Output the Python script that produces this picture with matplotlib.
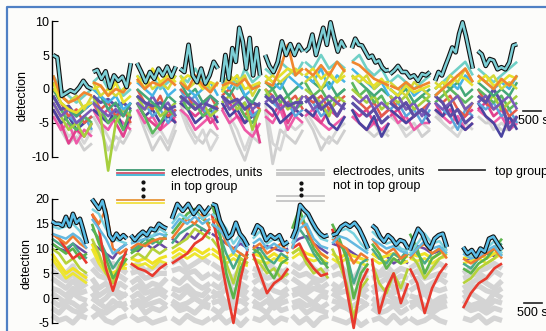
import numpy as np
import matplotlib.pyplot as plt
from matplotlib.lines import Line2D

plt.rcParams['font.family'] = ['Liberation Sans', 'DejaVu Sans']

W, H = 546, 331
PX_PER_S = 0.036          # 500 s scale bar is ~18 px wide
X_MAX = (W - 52) / PX_PER_S

# recording blocks (seconds)
top_start = [30, 1140, 2360, 3560, 4720, 5920, 7030, 8330, 9390, 10640, 11830]
top_end = [1110, 2190, 3440, 4610, 5780, 6970, 8140, 9360, 10500, 11690, 12920]
bot_start = [0, 1110, 2190, 3330, 4440, 5580, 6670, 7780, 8890, 9940, 11420]
bot_end = [970, 2080, 3190, 4390, 5440, 6560, 7670, 8780, 9890, 10970, 12500]

# ---- top panel: detection per block ----
top_peak = [
    [5, 4.6, -1, -0.6, -0.2, -0.5, 0.2, 1.2, 0.3, 0],
    [2.5, 2.8, 1.5, 2.6, 0.2, 2.0, 1.2, 1.8, 0.3, 3.8],
    [3.8, 2.5, 1, 2.5, 1.5, 3, 2, 3.3, 1.8, 3.3],
    [3, 2.5, 6.5, 2, 1, 3, 0.8, 2, 4, 3],
    [1, 5, 1.5, 6, 4, 9, 7, 3, 7.5, 2, 6, 2],
    [5, 3.4, 2.5, 4, 7, 5, 6.6, 5, 6.5, 5.5],
    [5.5, 6, 8, 5, 7, 9, 6.5, 9.8, 7.5, 5.5, 7, 6],
    [6, 7.4, 6.5, 6.4, 5.5, 4.6, 4.9, 3.9, 4.2, 3.2, 2.7, 2.8],
    [2.2, 2.7, 3.4, 2.5, 2.5, 1.7, 2, 1.2, 2.2, 2, 2.5],
    [1.2, 2.5, 2, 3.4, 4.7, 6.1, 5.4, 8.1, 9.8, 7.8, 5.4, 3],
    [5.6, 5.1, 3.4, 4.4, 4.2, 2.9, 3.2, 2.9, 3.9, 6.4, 6.6],
]
top_orange = [
    [2, -1, -2, -1.5, -0.5, -1], [1, 0.5, -1, 0, -0.5, 1], [1.5, 0, 1, 0.5, 1.5, 0.5],
    [1, 0, 2, 0.5, -0.5, 1], [0.5, 1, 0.5, 1.5, 0, 0.5], [1, 0.5, 3, 6.5, 2, 3],
    [3, 2, 3.5, 2, 4, 2.5], [4, 3.5, 2.5, 1.5, 1, 0.5], [0.5, 0, 1, 0, 0.5, 1],
    [-1, 0, 1, 2, 3, 1], [2, 1, 0, 1.5, 0.5, 2],
]
top_yellow = [
    [1, -2, -3, -3.5, -2.5, -2], [0, 0.5, -1, 1, -2, -1], [2, 0, 3, 1, 2, 1],
    [1, 2, 1.5, 0, 1, 0.5], [-0.5, 1, 2, 0, 0.5, 1], [2, 1, 2, 3, 2.5, 3],
    [2, 3, 1.5, 2.5, 1, 2], [1.5, 2, 1, 0.5, 1.5, 0], [0, -1, 0.5, -0.5, 0, 0.5],
    [0, 1, 0.5, 2, 1.5, 0.5], [1, 2, 0.5, 1, 2, 1.5],
]
top_yellow2 = [
    [0, -1, -2, -1, -3, -1], [1, -1, 0, -1, 0, 1], [1, 2, 0, 1, 0, 2],
    [2, 0, 1, 2, 0, 1], [0, 2, 1, 2, -1, 1], [1, 2, 1, 2, 3, 2],
    [1, 2, 0, 2, 1, 3], [2, 1, 2, 0, 1, 1], [1, 0, -1, 1, 0, -1],
    [1, 0, 2, 1, 3, 1], [2, 1, 2, 0, 1, 0],
]
top_teal = [
    [2, 0, -1, -2, -1, 0], [1, 2, 0, 1, -1, 0], [2, 1, 2, 0, 1, 2],
    [2, 1, 3, 1, 0, 1], [1, 2, 0, 3, 1, 2], [3, 2, 4, 3, 2, 4],
    [4, 3, 5, 3, 4, 3], [4, 5, 3, 2, 3, 1], [1, 2, 1, 0, 1, 2],
    [0, 1, 2, 3, 4, 2], [3, 2, 1, 2, 3, 4],
]
top_sky = [
    [1, -1, -2, -1, -3, -2], [0, -1, -2, -1, -3, -2], [1, 0, -1, 1, -1, 0],
    [1, 0, -1, 0, 1, -1], [1, 0, 2, -1, 0, 1], [2, 1, 0, 2, 1, 0],
    [2, 1, 3, 0, 2, 1], [3, 2, 1, 0, 1, -1], [0, -1, 1, -1, 0, -1],
    [-1, 0, 1, 0, 2, 1], [2, 1, 0, 1, 0, 2],
]
top_green2 = [
    [0, -2, -3, -4, -3, -2], [0, -1, -3, -2, -4, -2], [0, -1, -2, -3, -1, -2],
    [1, -1, 0, -2, -1, -2], [0, -1, 1, -1, -2, 0], [1, 0, 1, -1, 0, 1],
    [2, 1, 0, 1, -1, 0], [2, 1, 0, -1, 0, -1], [0, -1, 0, -2, -1, 0],
    [0, 1, 0, 1, -1, 0], [1, 0, -1, 0, -1, 1],
]
top_lime = [
    [-2, -4, -6, -5, -7, -5], [-1, -4, -12, -5, -3, -4], [-1, -3, -2, -4, -3, -2],
    [-1, -2, -3, -2, -4, -3], [-2, -1, -3, -2, -6, -3], [0, -2, -1, -3, -2, -1],
    [0, -1, -2, -4, -1, -2], [0, -1, -2, -1, -3, -2], [-1, -2, -1, -3, -2, -1],
    [-1, 0, -2, -1, -3, -2], [-1, -2, -1, -3, -2, -1],
]
top_green = [
    [-1, -3, -5, -6, -4, -5], [-2, -3, -5, -4, -6, -3], [-2, -4, -6.5, -5, -3, -4],
    [-1, -3, -2, -4, -3, -2], [-1, -3, -2, -4, -5, -3], [-1, 0, -2, -1, -3, -2],
    [1, -1, 0, -2, -1, 0], [1, -1, 0, -2, -1, -3], [-2, -1, -3, -2, -1, -2],
    [-2, -1, 0, -1, -2, -1], [0, -1, -2, -1, -3, -2],
]
top_red = [
    [0, -2, -4, -3, -5, -4], [-1, -3, -2, -4, -3, -5], [0, -2, -3, -1, -4, -3],
    [0, -1, -3, -2, -1, -3], [-1, 0, -2, -4, -2, -3], [0, -1, -3, -2, -1, -3],
    [-1, -2, -1, -3, -2, -1], [-1, -2, -3, -2, -4, -3], [-1, -3, -2, -4, -3, -2],
    [-1, -2, -1, -3, -4, -2], [0, -2, -3, -2, -4, -3],
]
top_blue = [
    [-1, -3, -4, -5, -4, -6], [-2, -1, -3, -4, -2, -3], [-1, -2, -4, -3, -5, -3],
    [0, -2, -1, -3, -4, -2], [0, -1, -3, -2, -4, -3], [-1, -2, -3, -2, -4, -3],
    [-1, -2, -4, -3, -2, -3], [-2, -3, -4, -3, -5, -4], [-3, -2, -4, -3, -5, -3],
    [-2, -3, -4, -6, -3, -4], [-2, -3, -2, -4, -3, -5],
]
top_purple = [
    [-1, -3, -2.5, -4, -3, -2], [-1, -2, -1.5, -2.5, -2, -3], [-1, -2, -2.5, -2, -3, -2.5],
    [-1, -2, -3, -2, -2.5, -3], [-1, -2, -1.5, -3, -2, -2.5], [-1, -2, -1, -2.5, -2, -2],
    [-2, -1, -3, -2, -4, -2], [-2, -3, -4, -3, -5, -4], [-2, -3, -2, -4, -3, -4],
    [-1, -2, -4, -3, -5, -4], [-1, -2, 0, -2, -6, -4],
]
top_violet = [
    [-2, -4, -3, -5, -4, -3], [-2, -3, -4, -3, -4, -2], [-2, -3, -1, -3, -2, -4],
    [-2, -1, -2, -3, -1, -2], [-1, -3, -2, -1, -3, -2], [-2, -1, -3, -2, -3, -1],
    [-1, -3, -2, -1, -2, -3], [-1, -2, -1, -3, -2, -3], [-2, -1, -3, -2, -4, -2],
    [-2, -3, -2, -1, -3, -2], [-2, -1, -3, -2, -1, -3],
]
top_navy = [
    [-3, -5, -4, -6, -5, -4], [-3, -4, -5, -3, -6, -4], [-2, -4, -3, -5, -4, -5],
    [-2, -3, -5, -4, -3, -5], [-2, -4, -3, -5, -4, -3], [-2, -3, -5, -4, -3, -4],
    [-3, -4, -2, -5, -6, -4], [-3, -5, -6, -4, -7, -5], [-3, -4, -5, -4, -3, -5],
    [-3, -4, -2, -5, -6, -5], [-2, -4, -5, -7, -4, -6],
]
top_magenta = [
    [-3, -5, -8, -6, -7, -5], [-2, -4, -3, -5, -7, -4], [-2, -4, -5, -6, -3, -5],
    [-2, -3, -4, -3, -5, -4], [-3, -2, -4, -5, -3, -8], [-3, -4, -2, -5, -3, -4],
    [-3, -4, -5, -3, -4, -2], [-3, -4, -3, -5, -4, -3], [-4, -3, -5, -4, -3, -4],
    [-2, -4, -3, -5, -4, -3], [-3, -2, -4, -3, -5, -4],
]
top_pink = [
    [-4, -6, -5, -8, -6, -7], [-3, -5, -6, -4, -5, -6], [-3, -5, -4, -6, -5, -4],
    [-3, -4, -6, -5, -4, -6], [-3, -5, -4, -6, -7, -5], [-4, -5, -3, -6, -4, -5],
    [-4, -3, -5, -6, -5, -4], [-4, -5, -6, -5, -6, -5], [-3, -5, -4, -6, -5, -5],
    [-3, -4, -5, -4, -6, -5], [-3, -4, -5, -4, -6, -5],
]
top_gray1 = [
    [-3, -6, -8, -7, -9, -8], [-4, -6, -9, -7, -8, -6], [-3, -6, -9, -7, -9, -6],
    [-2, -5, -7, -8, -6, -7], [-3, -5, -8, -10.5, -7, -8], [-3, -11, -6, -7, -8, -6],
    [-4, -6, -9, -7, -8, -6], [-4, -5, -6, -7, -6, -7], [-4, -5, -6, -5, -7, -6],
    [-4, -5, -6, -5, -6, -5], [-4, -5, -5, -6, -6, -5],
]
top_gray2 = [
    [-2, -5, -7, -6, -8, -6], [-3, -5, -7, -9, -6, -5], [-2, -5, -7, -6, -8, -5],
    [-3, -6, -8, -6, -9, -7], [-2, -4, -6, -9, -6, -7], [-2, -8, -9, -5, -6, -5],
    [-3, -5, -7, -8, -6, -5], [-3, -5, -6, -5, -7, -6], [-3, -5, -7, -6, -5, -6],
    [-3, -5, -6, -7, -5, -6], [-3, -4, -6, -5, -6, -5],
]

# ---- bottom panel ----
bot_peak = [
    [15.5, 15, 15, 14.6, 16.4, 14.5, 17, 15.2, 16, 13.6, 11],
    [20, 19, 18, 19.6, 16.8, 12.7, 11.7, 13, 12, 12.7, 12],
    [12.7, 11.7, 12.7, 13.4, 12.7, 14, 13.7, 15, 14.4, 14],
    [16, 19, 17.6, 19, 17, 18.5, 17, 18.5],
    [19, 18.7, 15.6, 14, 12.1, 12.8, 15.2, 13, 12, 10.5],
    [12.7, 14.7, 14, 11.7, 12.7, 12, 12.7, 10.8, 11.4],
    [12, 14, 18.8, 17.8, 17, 15.4, 14, 13, 12.4, 12.7],
    [12.7, 13, 14.4, 15, 14.4, 15.2, 14, 12.1, 10],
    [14.7, 14, 12.4, 11.4, 12.7, 12, 10.8, 11.7, 11.4, 10],
    [9.7, 12, 14, 13, 11, 10, 12, 12.7, 13, 10.3],
    [10.3, 9, 9.7, 8.4, 10, 9.4, 12, 12.4, 11, 9.7],
]
bot_cyan = [
    [14.5, 14, 14.5, 15, 13.5, 11], [18, 17, 14, 12, 11.5, 11], [11.5, 12, 13, 12.5, 14, 13],
    [15, 17, 16, 17.5, 16, 17], [17, 16, 14, 11, 13, 10], [12, 13.5, 11, 12, 11.5, 10.5],
    [11, 15, 17, 14, 12, 11.5], [12, 13.5, 14, 13, 11, 9.5], [13.5, 12, 11, 11.5, 10, 9.5],
    [9, 11, 13, 11, 11.5, 9.5], [9.5, 8.5, 9, 10, 11.5, 9],
]
bot_sky = [
    [13, 12.5, 12, 13, 12, 10], [16, 14, 12, 9, 10, 11], [11, 11.5, 12, 12.5, 13, 12.5],
    [14, 16, 15, 16.5, 15, 16], [15, 14, 12, 9, 12, 9.5], [11, 12, 10, 11, 10, 9.5],
    [10, 14, 15, 12, 10.5, 10], [11, 12.5, 12, 11, 10, 9], [12, 11, 10, 10.5, 9.5, 9],
    [8.5, 10, 11.5, 10, 10.5, 9], [9, 8, 8.5, 9.5, 10.5, 8.5],
]
bot_orange = [
    [13, 12, 11, 12.5, 11, 10], [17, 15, 18, 10, 9, 10], [10, 11, 10.5, 11.5, 12, 12],
    [12, 14, 16, 15, 17, 14], [16, 15, 11, 10, 9, 8], [10, 11, 9, 10, 11, 9],
    [10, 16, 14, 11, 9, 8], [12, 11, 10, 7, 9, 8], [12, 10, 9, 10, 8, 9],
    [8, 10, 11, 9, 10, 8], [8, 7, 8, 9, 10, 8],
]
bot_red = [
    [13, 12, 10, 8, 9, 7], [17, 14, 6, 1.5, 6, 10], [7, 6, 5.5, 4.5, 6, 7],
    [7, 8, 9, 11, 12, 14], [17, 10, 2, -5, 4, 10], [9, 5, 1, 3, 4, 6],
    [10, 11, 8, 6, 4.5, 5], [14, 10, 2, -6, 3, 6], [8, -3, 2, 5, -1, 3],
    [6, 3, -3, 2, 5, 7], [-2, 1, 3, 4, 6, 7],
]
bot_green = [
    [11, 10, 9, 10, 8, 9], [15, 11, 8, 4, 6, 8], [9, 10, 11, 12, 11, 13],
    [13, 15, 17, 18, 16, 15], [19, 14, 5, 0, 6, 9], [10, 9, 6, 4, 7, 8],
    [14, 18, 14, 10, 8, 6], [15, 12, 8, 0, 5, 7], [11, 9, 6, 8, 7, 9],
    [13, 10, 5, 8, 9, 11], [6, 5, 7, 8, 10, 12],
]
bot_teal = [
    [12, 11, 10, 11, 9, 8], [14, 12, 9, 6, 8, 9], [9.5, 10.5, 12, 11, 12, 12],
    [11, 13, 14, 15, 14, 13], [15, 13, 9, 6, 9, 8], [9, 10, 8, 7, 9, 8],
    [12, 14, 12, 9, 7, 7], [13, 11, 9, 3, 7, 8], [10, 8, 7, 9, 8, 10],
    [11, 9, 7, 9, 10, 10], [7, 6, 8, 9, 10, 11],
]
bot_lime = [
    [10, 9, 7, 8, 6, 5], [12, 9, 5, 3, 7, 8], [8, 9, 8, 10, 9, 10],
    [10, 11, 12, 14, 13, 12], [12, 10, 7, 3, 8, 7], [8, 7, 5, 6, 4, 5],
    [9, 10, 7, 5, 6, 4], [10, 7, 3, -4, 2, 4], [7, 3, 1, 5, 2, 6],
    [9, 7, 4, 6, 8, 9], [3, 4, 6, 7, 8, 10],
]
bot_yellow = [
    [9, 7, 5, 6, 5, 4], [11, 8, 6, 5, 6, 7], [8, 7.5, 8, 7, 8, 8.5],
    [9, 10, 9, 10, 9, 10], [10, 9, 8, 9, 8, 7], [9, 8.5, 8, 9, 8, 8.5],
    [9, 10, 9, 8.5, 9, 8], [9, 8, 9, 8.5, 8, 7.5], [9, 8, 8.5, 9, 8, 8.5],
    [9, 8.5, 9, 8, 9, 9.5], [8, 8.5, 9, 8, 9, 10],
]
bot_yellow2 = [
    [8, 6, 4, 5, 4, 3], [10, 7, 5, 4, 6, 6], [7, 6.5, 7, 6, 7.5, 7],
    [8, 9, 8, 9, 8, 9], [9, 8, 7, 8, 7, 6.5], [8, 7.5, 7, 8, 7.5, 7],
    [8, 9, 8, 7.5, 8, 7], [8, 7, 8, 7.5, 7, 6.5], [8, 7, 7.5, 8, 7, 7.5],
    [8, 7.5, 8, 7, 8, 8.5], [7, 7.5, 8, 7, 8, 9],
]
bot_purple = [
    [11, 10, 9.5, 11, 10, 9], [11, 10, 9, 8, 10, 11], [10, 9.5, 11, 10, 11, 10],
    [12, 11, 13, 12, 14, 13], [13, 12, 11, 10, 11, 10], [10.5, 10, 10.5, 10, 9.5, 10],
    [11, 12, 12.5, 11, 10, 9], [11, 10.5, 10, 9, 8, 7.5], [9, 8, 8.5, 7, 8, 7],
    [9.5, 10.5, 10, 9, 9.5, 10], [8, 7.5, 8, 9, 8.5, 9],
]
bot_gray1 = [
    [7, 6, 5, 6.5, 4, 5], [8, 6, 5, 7, 6, 5], [6, 7, 5.5, 6, 7, 6], [7, 8, 6, 7, 8, 7],
    [7, 6, 5, 4, 6, 5], [6, 5.5, 7, 6, 5, 6], [7, 6, 7.5, 6, 5, 6], [6, 7, 5, 4, 6, 5],
    [6, 5, 6.5, 5, 6, 5.5], [6, 7, 5, 6, 7, 6], [5, 6, 5.5, 6, 7, 6],
]
bot_gray2 = [
    [5.5, 4.5, 3.5, 5, 3, 4], [6, 4.5, 4, 5, 4.5, 3.5], [5, 5.5, 4, 4.5, 5, 5],
    [5.5, 6, 5, 5.5, 4, 5], [5, 4, 5.5, 3, 4.5, 4], [4.5, 5, 4, 4.5, 5.5, 4.5],
    [5.5, 4.5, 5, 4, 3.5, 4.5], [4.5, 5, 4, 3, 4.5, 4], [4, 4.5, 5, 3.5, 4.5, 4],
    [4.5, 5.5, 4, 4.5, 5, 4.5], [4, 4.5, 5, 4, 5.5, 4.5],
]
bot_gray3 = [
    [4, 3, 2, 3.5, 2, 3], [4, 2, 3, 1, 3, 2], [3, 4, 2, 3, 2.5, 4], [4, 3, 4.5, 3, 2, 3],
    [3, 2, 4, 1, 3, 2], [3, 4, 2, 3, 4, 3], [4, 3, 2, 3.5, 2, 3], [3, 2, 3.5, 1, 2, 3],
    [2, 3, 4, 2, 3, 2.5], [3, 4, 2, 3, 4, 3], [2, 3, 4, 3, 2, 3.5],
]
bot_gray4 = [
    [2, 1.5, 0.5, 2, 1, 1.5], [2.5, 0.5, 1.5, 2, 1, 0.5], [1.5, 2.5, 1, 1.5, 2, 1],
    [2, 1.5, 2.5, 1, 0.5, 2], [1.5, 0.5, 2, 0, 2, 1], [2, 1, 2.5, 1.5, 1, 2],
    [1.5, 2, 1, 2, 1.5, 1], [2, 1, 1.5, 0, 1, 2], [1, 2, 1.5, 1, 2, 1.5],
    [1.5, 2.5, 1, 2, 1.5, 2], [1, 2, 2.5, 1.5, 1, 2],
]
bot_gray5 = [
    [1, 0, -1, 1, 0, -0.5], [1, -1, 0, 1.5, 0, 1], [0, 1, -0.5, 0.5, 1, 0], [1, 0, 1.5, 0, -1, 0.5],
    [0, 1, -1, 0, 1, -0.5], [1, 0, 1, -1, 0, 1], [0.5, 1, 0, -1, 0.5, 0], [1, 0, -1, 0.5, 1, 0],
    [0, -1, 1, 0, -0.5, 1], [0.5, 0, 1, -1, 0, 0.5], [0, 1, 0, -1, 1, 0],
]
bot_gray6 = [
    [-0.5, -1.5, -0.5, -1, -2, -1], [0, -1, -2, -0.5, -1.5, -1], [-1, -0.5, -1.5, -1, -0.5, -1.5],
    [-0.5, -1.5, -1, 0, -1, -1.5], [-1, -0.5, -2, -1, -0.5, -1.5], [-0.5, -1.5, -0.5, -2, -1, -0.5],
    [-1, -0.5, -1.5, -1, -2, -1], [-0.5, -1, -2, -1.5, -0.5, -1.5], [-1, -2, -0.5, -1, -1.5, -0.5],
    [-1, -0.5, -1.5, -2, -1, -0.5], [-0.5, -1.5, -1, -2, -0.5, -1],
]
bot_gray7 = [
    [-2, -3, -1.5, -2.5, -3, -2], [-1.5, -2.5, -3, -2, -1, -2.5], [-2, -1, -3, -2, -2.5, -1.5],
    [-1, -2.5, -2, -3, -1.5, -2], [-2, -3, -1.5, -2, -3, -2], [-1.5, -2, -3, -1, -2.5, -2],
    [-2, -1.5, -3, -2, -2.5, -3], [-2.5, -1.5, -2, -3, -2, -1], [-2, -3, -2.5, -1.5, -3, -2],
    [-2, -1, -2.5, -3, -2, -1.5], [-1.5, -2.5, -2, -3, -2, -2.5],
]
bot_gray8 = [
    [-3.5, -4.5, -4, -5, -3.5, -4], [-4, -3, -4.5, -5, -4, -3.5], [-3.5, -4.5, -4, -5, -4.5, -4],
    [-4, -5, -3.5, -4.5, -5, -4], [-4.5, -3.5, -5, -4, -5.5, -4], [-4, -4.5, -3.5, -5, -4, -4.5],
    [-3.5, -5, -4, -5.5, -4, -3.5], [-4, -4.5, -5, -4, -5.5, -4.5], [-4.5, -4, -5, -3.5, -5, -4],
    [-4, -5, -4.5, -3.5, -4.5, -5], [-4, -4.5, -3.5, -5, -4, -4.5],
]


def draw_series(ax, starts, ends, segs, color, lw, z=2):
    for s, e, v in zip(starts, ends, segs):
        x = np.linspace(s, e, len(v))
        ax.plot(x, v, color=color, lw=lw, zorder=z, solid_joinstyle='round',
                solid_capstyle='butt', clip_on=False)


def draw_peak(ax, starts, ends, segs, color):
    draw_series(ax, starts, ends, segs, '#111111', 3.4, z=5)
    draw_series(ax, starts, ends, segs, color, 1.8, z=6)


def style_axis(ax, lo, hi, ticks):
    for side in ['top', 'right', 'bottom']:
        ax.spines[side].set_visible(False)
    ax.spines['left'].set_bounds(lo, hi)
    ax.spines['left'].set_linewidth(1.0)
    ax.set_yticks(ticks)
    ax.set_yticklabels([str(t) for t in ticks])
    ax.tick_params(axis='y', direction='in', length=4, labelsize=9, pad=2)
    ax.set_xticks([])
    ax.set_xlim(0, X_MAX)
    ax.set_ylabel('detection', fontsize=9, labelpad=2)
    ax.patch.set_alpha(0)


def fig_xy(px, py):
    return px / W, 1 - py / H


fig = plt.figure(figsize=(W / 100, H / 100), dpi=100)
fig.patch.set_facecolor('#fcfcfa')

# top panel
ax1 = fig.add_axes([52 / W, 1 - 174 / H, (W - 52) / W, (174 - 17.6) / H])
ax1.set_ylim(-12.5, 10.5)
for segs, col, lw in [(top_gray1, '#cfcfcf', 2.0), (top_gray2, '#d6d6d6', 2.0),
                      (top_pink, '#ee5aa8', 1.9), (top_magenta, '#e2408e', 1.9),
                      (top_navy, '#4a44a0', 1.9), (top_blue, '#5aa6dc', 1.8),
                      (top_red, '#e45a4a', 1.8), (top_green, '#5cb860', 1.9),
                      (top_lime, '#a6cf3e', 1.9), (top_violet, '#7a5ab8', 1.9),
                      (top_purple, '#5e4ea6', 2.2), (top_green2, '#44a878', 1.8),
                      (top_sky, '#46b4e6', 1.8), (top_teal, '#70d0c6', 1.9),
                      (top_yellow2, '#d4d838', 1.8), (top_yellow, '#e6e02c', 1.9),
                      (top_orange, '#f0862e', 1.9)]:
    draw_series(ax1, top_start, top_end, segs, col, lw)
draw_peak(ax1, top_start, top_end, top_peak, '#7ccfd6')
style_axis(ax1, -10, 10, [-10, -5, 0, 5, 10])
ax1.plot([13080, 13580], [-3.3, -3.3], color='#222222', lw=1.2, clip_on=False)
ax1.text(12940, -4.7, '500 s', fontsize=9, va='center', ha='left', clip_on=False)

# bottom panel
ax2 = fig.add_axes([52 / W, 1 - 330.4 / H, (W - 52) / W, (330.4 - 196.5) / H])
ax2.set_ylim(-6.5, 20.5)
for segs in [bot_gray1, bot_gray2, bot_gray3, bot_gray4, bot_gray5, bot_gray6,
             bot_gray7, bot_gray8]:
    draw_series(ax2, bot_start, bot_end, segs, '#d4d4d4', 3.8, z=1)
for segs, col, lw in [(bot_purple, '#6a4aa4', 1.8), (bot_yellow2, '#ece632', 2.0),
                      (bot_yellow, '#f0e224', 2.2), (bot_lime, '#b6d23a', 1.9),
                      (bot_teal, '#4aaa8a', 1.8), (bot_green, '#5cb44c', 1.9),
                      (bot_red, '#e83a2e', 1.9), (bot_orange, '#f07a30', 1.8),
                      (bot_sky, '#64b8e0', 1.8), (bot_cyan, '#7ad2e0', 1.8)]:
    draw_series(ax2, bot_start, bot_end, segs, col, lw)
draw_peak(ax2, bot_start, bot_end, bot_peak, '#58bce6')
style_axis(ax2, -5, 20, [-5, 0, 5, 10, 15, 20])
ax2.plot([13110, 13610], [-1.0, -1.0], color='#222222', lw=1.2, clip_on=False)
ax2.text(12910, -2.95, '500 s', fontsize=9, va='center', ha='left', clip_on=False)


# legend drawn in figure pixel space
def fig_line(x0, x1, py, color, lw=1.3):
    (fx0, fy), (fx1, _) = fig_xy(x0, py), fig_xy(x1, py)
    fig.add_artist(Line2D([fx0, fx1], [fy, fy], color=color, lw=lw, transform=fig.transFigure))


def fig_dots(px, pys):
    for py in pys:
        fx, fy = fig_xy(px, py)
        fig.add_artist(Line2D([fx], [fy], marker='o', ms=2.0, color='#111111',
                              transform=fig.transFigure))


def fig_text(px, py, s):
    fx, fy = fig_xy(px, py)
    fig.text(fx, fy, s, fontsize=9, va='center', ha='left')


for py, col in [(170, '#3f9a72'), (172.5, '#d0506a'), (175, '#3fb2d4')]:
    fig_line(117, 164, py, col)
for py, col in [(199.5, '#e8963a'), (202.5, '#f0e040')]:
    fig_line(117, 164, py, col)
fig_dots(142.5, [182, 189, 195.5])
fig_text(171, 172.5, 'electrodes, units')
fig_text(171, 187, 'in top group')

for py in [170, 172.7, 175.4, 196, 200.5]:
    fig_line(277, 324, py, '#c4c4c4')
fig_dots(301, [183, 189, 195])
fig_text(333, 171.5, 'electrodes, units')
fig_text(333, 186, 'not in top group')

fig_line(439, 485, 170, '#333333')
fig_text(495, 171.5, 'top group')

# blue frame
fx, fy = fig_xy(7, 7)
fig.add_artist(Line2D([fx, fx, 1.0], [0.0, fy, fy], color='#4f80c4', lw=1.6,
                      transform=fig.transFigure))

fig.savefig('out.png', dpi=100, facecolor=fig.get_facecolor())
